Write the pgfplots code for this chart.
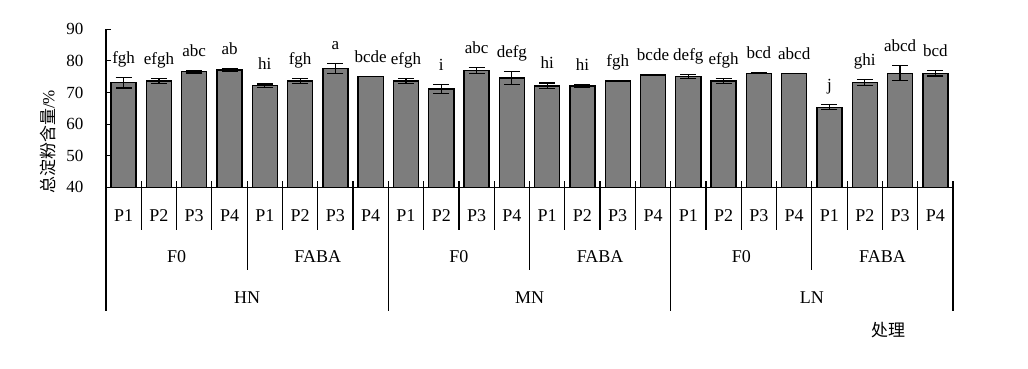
\documentclass[border=0pt]{standalone}
\usepackage{pgfplots}
\usepackage{pgfplotstable}
\pgfplotsset{compat=1.18}
\usepackage{fontspec}
\setmainfont{Liberation Serif}
\newfontfamily\cjk{Noto Sans CJK SC}
\definecolor{barfill}{RGB}{125,125,125}

\pgfplotstableread{
x y err lab
1 73.1 1.7 fgh
2 73.7 0.8 efgh
3 76.6 0.4 abc
4 77.1 0.4 ab
5 72.2 0.5 hi
6 73.7 0.8 fgh
7 77.6 1.5 a
8 75.1 0 bcde
9 73.6 0.8 efgh
10 71.1 1.4 i
11 77.0 0.9 abc
12 74.6 2.0 defg
13 72.1 0.9 hi
14 72.1 0.4 hi
15 73.6 0 fgh
16 75.5 0 bcde
17 75.1 0.6 defg
18 73.6 0.8 efgh
19 76.1 0.2 bcd
20 76.1 0 abcd
21 65.3 0.8 j
22 73.1 1.0 ghi
23 76.1 2.4 abcd
24 76.1 0.9 bcd
}\data

\begin{document}
\begin{tikzpicture}[x=1bp,y=1bp]
\path[use as bounding box] (0,0) rectangle (1028,368);
\begin{axis}[
  at={(106bp,180.7bp)}, anchor=south west,
  scale only axis, width=847bp, height=158bp,
  xmin=0.5, xmax=24.5, ymin=40, ymax=90,
  axis x line*=bottom, axis y line*=left,
  axis line style={line width=1.4bp, -},
  clip=false,
  ytick={40,50,...,90},
  ytick align=inside, major tick length=5bp,
  y tick style={line width=1.2bp, black},
  yticklabel style={font=\fontsize{17bp}{20bp}\selectfont, xshift=-19bp},
  /pgf/number format/assume math mode=true,
  xtick={1,...,24},
  x tick style={draw=none},
  xticklabels={P1,P2,P3,P4,P1,P2,P3,P4,P1,P2,P3,P4,P1,P2,P3,P4,P1,P2,P3,P4,P1,P2,P3,P4},
  xticklabel style={font=\fontsize{18bp}{21bp}\selectfont, anchor=center, yshift=-28.5bp},
  every axis y label/.style={at={(axis description cs:-0.0685,0.287)}, rotate=90, anchor=center},
  ylabel={\fontsize{17bp}{20bp}\selectfont{\cjk 总淀粉含量}/\%},
]
\addplot[ybar, bar shift=0pt, bar width=0.71, fill=barfill, draw=black, line width=1.4bp,
  error bars/.cd, y dir=both, y explicit,
  error bar style={line width=1.2bp, black},
  error mark options={rotate=90, mark size=8bp, line width=1.2bp, black}]
  table[x=x, y=y, y error=err] {\data};
\addplot[draw=none, mark=none, nodes near coords, point meta=explicit symbolic,
  every node near coord/.append style={font=\fontsize{17bp}{20bp}\selectfont, inner sep=0pt, text depth=0pt, yshift=14bp}]
  table[x=x, y expr=\thisrow{y}+\thisrow{err}, meta=lab] {\data};
\pgfplotsinvokeforeach{0.5,1.5,...,24.5}{
  \draw[line width=1.2bp] ([yshift=6bp]axis cs:#1,40) -- ([yshift=-43bp]axis cs:#1,40);
}
\pgfplotsinvokeforeach{0.5,4.5,...,24.5}{
  \draw[line width=1.2bp] (axis cs:#1,40) -- ([yshift=-83bp]axis cs:#1,40);
}
\pgfplotsinvokeforeach{0.5,8.5,16.5,24.5}{
  \draw[line width=1.2bp] (axis cs:#1,40) -- ([yshift=-124bp]axis cs:#1,40);
}
\pgfplotsinvokeforeach{2.5,10.5,18.5}{
  \node[font=\fontsize{18bp}{21bp}\selectfont] at ([yshift=-69bp]axis cs:#1,40) {F0};
}
\pgfplotsinvokeforeach{6.5,14.5,22.5}{
  \node[font=\fontsize{18bp}{21bp}\selectfont] at ([yshift=-69bp]axis cs:#1,40) {FABA};
}
\node[font=\fontsize{18bp}{21bp}\selectfont] at ([yshift=-110bp]axis cs:4.5,40) {HN};
\node[font=\fontsize{18bp}{21bp}\selectfont] at ([yshift=-110bp]axis cs:12.5,40) {MN};
\node[font=\fontsize{18bp}{21bp}\selectfont] at ([yshift=-110bp]axis cs:20.5,40) {LN};
\node[font=\fontsize{17bp}{20bp}\selectfont\cjk] at ([yshift=-143bp]axis cs:22.66,40) {处理};
\end{axis}
\end{tikzpicture}
\end{document}
